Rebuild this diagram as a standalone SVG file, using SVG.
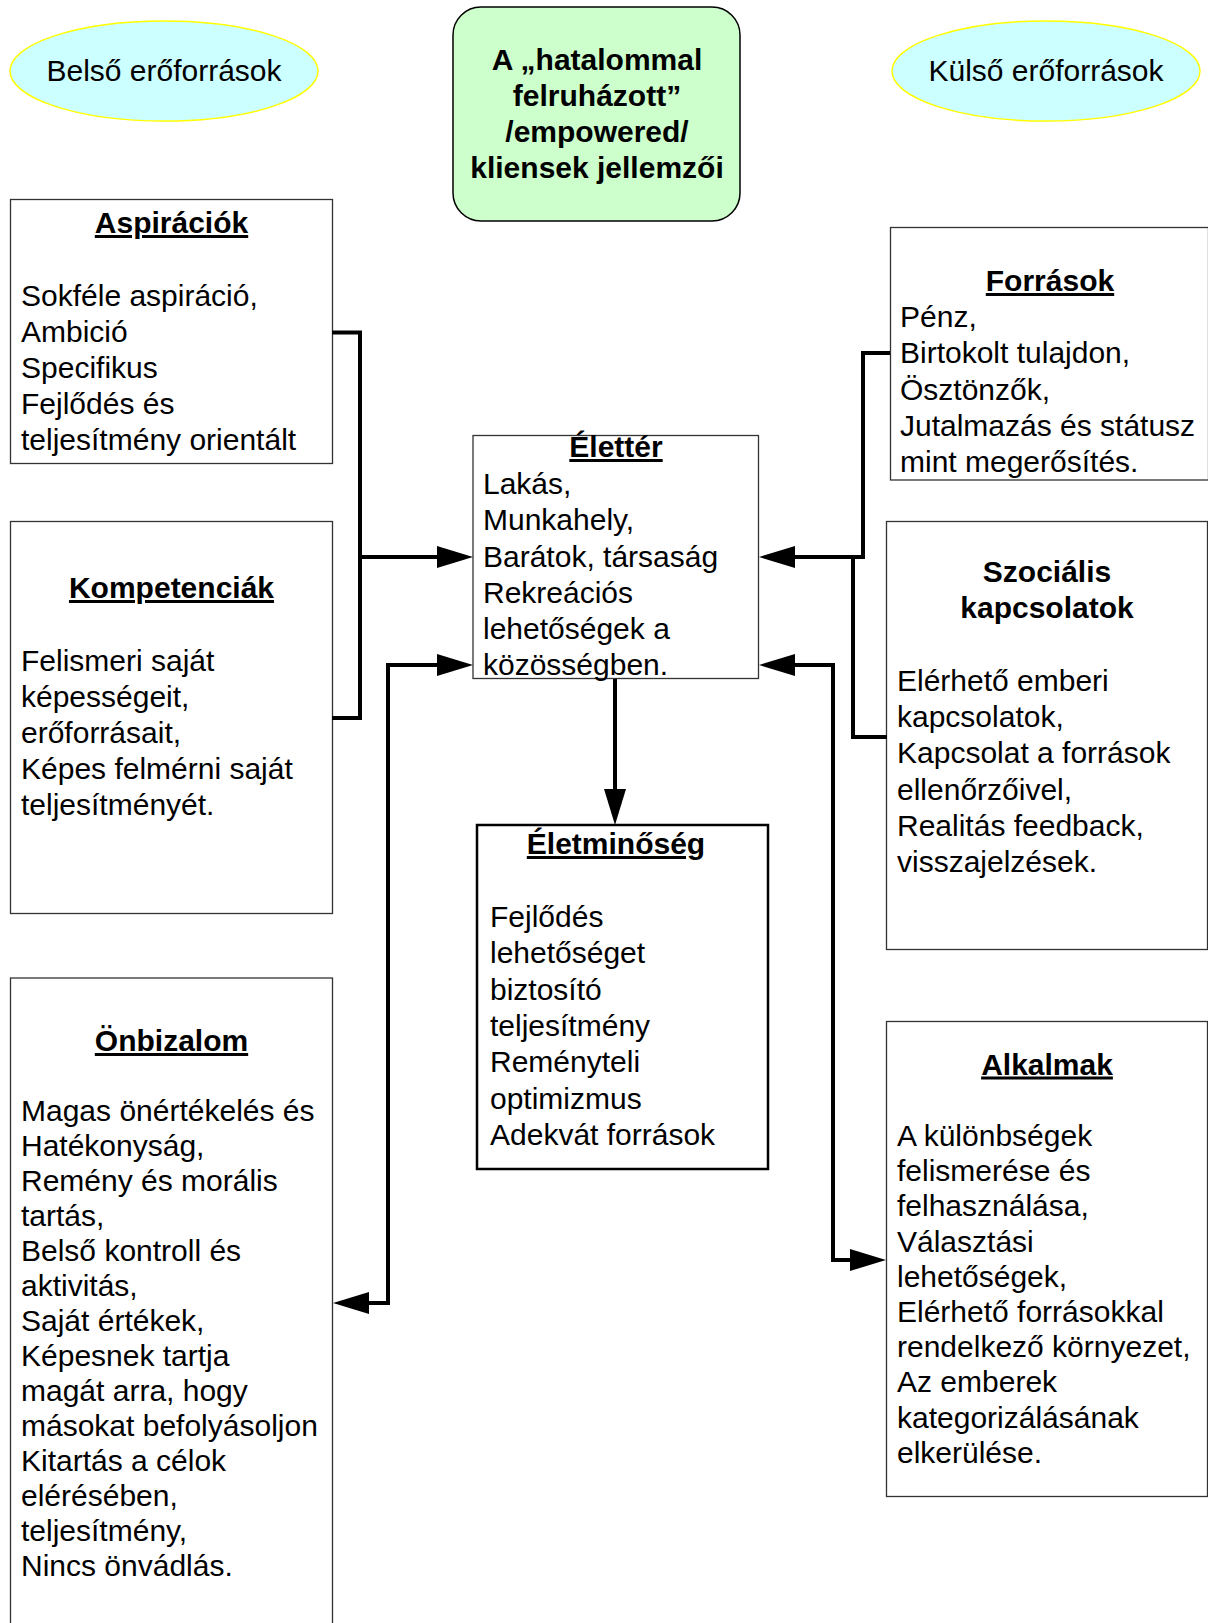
<svg xmlns="http://www.w3.org/2000/svg" width="1208" height="1623" viewBox="0 0 1208 1623">
<style>
.box{fill:#fff;stroke:#333;stroke-width:1.3}
.ell{fill:#ccffff;stroke:#ffff00;stroke-width:1.5}
.t{font-family:"Liberation Sans",Arial,sans-serif;font-size:30px;fill:#000}
.b{font-weight:bold}
.u{text-decoration:underline}
.c{text-anchor:middle}
.conn{fill:none;stroke:#000;stroke-width:4;stroke-linejoin:miter}
</style>
<defs>
<marker id="ah" markerUnits="userSpaceOnUse" markerWidth="38" markerHeight="24" refX="0" refY="12" orient="auto-start-reverse" viewBox="0 0 38 24">
<path d="M0,1 L36,12 L0,23 Z" fill="#000"/>
</marker>
</defs>
<rect width="1208" height="1623" fill="#fff"/>

<g id="belso">
<ellipse class="ell" cx="164" cy="71" rx="154" ry="50"/>
<text class="t c" x="164" y="81">Belső erőforrások</text>
</g>

<g id="kulso">
<ellipse class="ell" cx="1046" cy="71" rx="154" ry="50"/>
<text class="t c" x="1046" y="81">Külső erőforrások</text>
</g>

<g id="cim">
<rect x="453" y="7" width="287" height="214" rx="28" ry="28" fill="#ccffcc" stroke="#000" stroke-width="1.5"/>
<text class="t b c" x="597" y="70">A „hatalommal</text>
<text class="t b c" x="597" y="106">felruházott”</text>
<text class="t b c" x="597" y="142">/empowered/</text>
<text class="t b c" x="597" y="178">kliensek jellemzői</text>
</g>

<g id="aspiraciok">
<rect class="box" x="10.5" y="199.5" width="322" height="264"/>
<text class="t b u c" x="171.5" y="233">Aspirációk</text>
<text class="t">
<tspan x="21" y="306">Sokféle aspiráció,</tspan>
<tspan x="21" y="342">Ambició</tspan>
<tspan x="21" y="378">Specifikus</tspan>
<tspan x="21" y="414">Fejlődés és</tspan>
<tspan x="21" y="450">teljesítmény orientált</tspan>
</text>
</g>

<g id="kompetenciak">
<rect class="box" x="10.5" y="521.5" width="322" height="392"/>
<text class="t b u c" x="171.5" y="598">Kompetenciák</text>
<text class="t">
<tspan x="21" y="671">Felismeri saját</tspan>
<tspan x="21" y="707">képességeit,</tspan>
<tspan x="21" y="743">erőforrásait,</tspan>
<tspan x="21" y="779">Képes felmérni saját</tspan>
<tspan x="21" y="815">teljesítményét.</tspan>
</text>
</g>

<g id="onbizalom">
<rect class="box" x="10.5" y="978" width="322" height="660"/>
<text class="t b u c" x="171.5" y="1051">Önbizalom</text>
<text class="t">
<tspan x="21" y="1121">Magas önértékelés és</tspan>
<tspan x="21" y="1156">Hatékonyság,</tspan>
<tspan x="21" y="1191">Remény és morális</tspan>
<tspan x="21" y="1226">tartás,</tspan>
<tspan x="21" y="1261">Belső kontroll és</tspan>
<tspan x="21" y="1296">aktivitás,</tspan>
<tspan x="21" y="1331">Saját értékek,</tspan>
<tspan x="21" y="1366">Képesnek tartja</tspan>
<tspan x="21" y="1401">magát arra, hogy</tspan>
<tspan x="21" y="1436">másokat befolyásoljon</tspan>
<tspan x="21" y="1471">Kitartás a célok</tspan>
<tspan x="21" y="1506">elérésében,</tspan>
<tspan x="21" y="1541">teljesítmény,</tspan>
<tspan x="21" y="1576">Nincs önvádlás.</tspan>
</text>
</g>

<g id="elletter">
<rect class="box" x="473" y="435.5" width="285.5" height="243"/>
<text class="t b u c" x="616" y="457">Élettér</text>
<text class="t">
<tspan x="483" y="494">Lakás,</tspan>
<tspan x="483" y="530">Munkahely,</tspan>
<tspan x="483" y="566.5">Barátok, társaság</tspan>
<tspan x="483" y="603">Rekreációs</tspan>
<tspan x="483" y="639">lehetőségek a</tspan>
<tspan x="483" y="675">közösségben.</tspan>
</text>
</g>

<g id="eletminoseg">
<rect x="477" y="825" width="291" height="344" fill="#fff" stroke="#000" stroke-width="2.5"/>
<text class="t b u c" x="616" y="854">Életminőség</text>
<text class="t">
<tspan x="490" y="927">Fejlődés</tspan>
<tspan x="490" y="963.3">lehetőséget</tspan>
<tspan x="490" y="999.6">biztosító</tspan>
<tspan x="490" y="1035.9">teljesítmény</tspan>
<tspan x="490" y="1072.2">Reményteli</tspan>
<tspan x="490" y="1108.5">optimizmus</tspan>
<tspan x="490" y="1144.8">Adekvát források</tspan>
</text>
</g>

<g id="forrasok">
<rect class="box" x="890.5" y="227.5" width="318" height="252.5"/>
<text class="t b u c" x="1050" y="291">Források</text>
<text class="t">
<tspan x="900" y="327">Pénz,</tspan>
<tspan x="900" y="363">Birtokolt tulajdon,</tspan>
<tspan x="900" y="399.5">Ösztönzők,</tspan>
<tspan x="900" y="435.5">Jutalmazás és státusz</tspan>
<tspan x="900" y="471.5">mint megerősítés.</tspan>
</text>
</g>

<g id="szocialis">
<rect class="box" x="886.5" y="521.5" width="321" height="428"/>
<text class="t b c" x="1047" y="582">Szociális</text>
<text class="t b c" x="1047" y="618">kapcsolatok</text>
<text class="t">
<tspan x="897" y="691">Elérhető emberi</tspan>
<tspan x="897" y="727">kapcsolatok,</tspan>
<tspan x="897" y="763">Kapcsolat a források</tspan>
<tspan x="897" y="799.5">ellenőrzőivel,</tspan>
<tspan x="897" y="835.7">Realitás feedback,</tspan>
<tspan x="897" y="872">visszajelzések.</tspan>
</text>
</g>

<g id="alkalmak">
<rect class="box" x="886.5" y="1021.5" width="321" height="475"/>
<text class="t b u c" x="1047" y="1074.5">Alkalmak</text>
<text class="t">
<tspan x="897" y="1146">A különbségek</tspan>
<tspan x="897" y="1181.2">felismerése és</tspan>
<tspan x="897" y="1216.4">felhasználása,</tspan>
<tspan x="897" y="1251.6">Választási</tspan>
<tspan x="897" y="1286.8">lehetőségek,</tspan>
<tspan x="897" y="1322">Elérhető forrásokkal</tspan>
<tspan x="897" y="1357.2">rendelkező környezet,</tspan>
<tspan x="897" y="1392.4">Az emberek</tspan>
<tspan x="897" y="1427.6">kategorizálásának</tspan>
<tspan x="897" y="1462.8">elkerülése.</tspan>
</text>
</g>

<g id="connectors">
<path class="conn" d="M332,332.5 H360 V718 H332"/>
<path class="conn" d="M360,557 H437" marker-end="url(#ah)"/>
<path class="conn" d="M369,1303 H388 V665 H437" marker-start="url(#ah)" marker-end="url(#ah)"/>
<path class="conn" d="M890,353 H863 V557 H795" marker-end="url(#ah)"/>
<path class="conn" d="M853,557 V737 H887"/>
<path class="conn" d="M850,1260 H833 V665 H795" marker-start="url(#ah)" marker-end="url(#ah)"/>
<path class="conn" d="M615,679 V789" marker-end="url(#ah)"/>
</g>
</svg>
